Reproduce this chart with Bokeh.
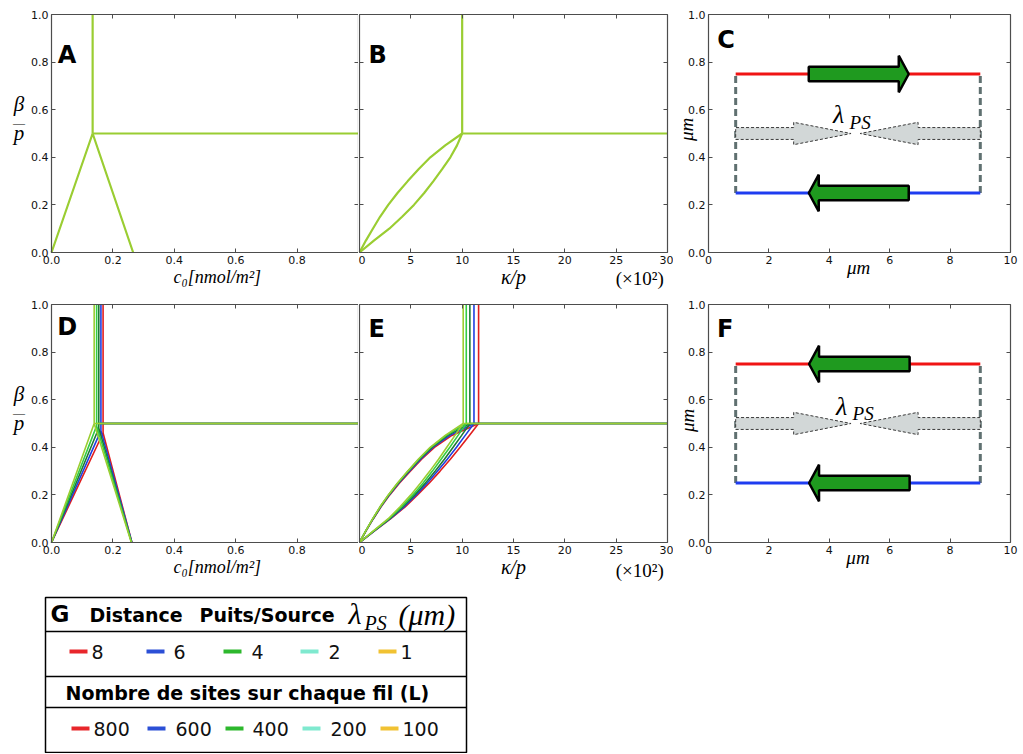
import math
from bokeh.plotting import figure
from bokeh.layouts import column, row
from bokeh.models import (Range1d, FixedTicker, LinearAxis, Label,
                          PrintfTickFormatter, CustomJSTickFormatter)
from bokeh.embed import file_html
from bokeh.resources import INLINE
from bokeh.core.properties import value

# ---------------- data ----------------
beta_lim = (0.0, 1.0)
c0_lim = (0.0, 1.0)
kappa_lim = (0.0, 30.0)
um_lim = (0.0, 10.0)
mc_beta = 0.5

# curve sample heights (beta/p) used by the lens curves of B and E
lens_beta = [0.0, 0.05, 0.10, 0.15, 0.20, 0.25, 0.30, 0.35, 0.40, 0.45, 0.50]

# panel A
a_crit_c0 = 0.134
a_foot_c0 = 0.266

# panel B (x in units of 10^2)
b_crit_kappa = 10.0
b_upper_kappa = [0.0, 0.62, 1.3, 2.0, 2.8, 3.7, 4.7, 5.75, 6.9, 8.35, 10.0]
b_lower_kappa = [0.0, 1.4, 2.9, 4.15, 5.3, 6.3, 7.2, 8.05, 8.85, 9.5, 10.0]

# series of panels D / E and of legend G
series_lambda = ["8", "6", "4", "2", "1"]
series_L = ["800", "600", "400", "200", "100"]
legend_colors = ["#e8262b", "#2b4fd6", "#2db82d", "#7fe9cf", "#f1c232"]
curve_colors = ["#e01e1e", "#1f3fe0", "#1f7a35", "#33cc44", "#9acd32"]
single_color = "#9acd32"

d_apex_c0 = [0.168, 0.161, 0.154, 0.147, 0.139]
d_apex_beta = [0.46, 0.47, 0.48, 0.49, 0.50]
d_foot_c0 = [0.262, 0.262, 0.261, 0.261, 0.260]

e_crit_kappa = [11.6, 11.15, 10.75, 10.4, 10.1]
e_upper_kappa = [
    [0.0, 0.65, 1.35, 2.1, 2.95, 3.9, 4.95, 6.05, 7.3, 9.0, 11.6],
    [0.0, 0.64, 1.33, 2.07, 2.9, 3.83, 4.86, 5.95, 7.15, 8.8, 11.15],
    [0.0, 0.63, 1.31, 2.04, 2.86, 3.77, 4.78, 5.85, 7.05, 8.6, 10.75],
    [0.0, 0.62, 1.3, 2.02, 2.83, 3.73, 4.73, 5.78, 6.95, 8.45, 10.4],
    [0.0, 0.62, 1.29, 2.0, 2.8, 3.7, 4.7, 5.72, 6.88, 8.35, 10.1],
]
e_lower_kappa = [
    [0.0, 1.5, 3.05, 4.45, 5.65, 6.8, 7.85, 8.85, 9.8, 10.7, 11.6],
    [0.0, 1.48, 3.0, 4.35, 5.52, 6.6, 7.6, 8.55, 9.45, 10.3, 11.15],
    [0.0, 1.45, 2.95, 4.22, 5.38, 6.42, 7.38, 8.27, 9.12, 9.95, 10.75],
    [0.0, 1.42, 2.88, 4.1, 5.2, 6.2, 7.1, 7.95, 8.8, 9.6, 10.4],
    [0.0, 1.38, 2.8, 3.95, 5.0, 5.95, 6.85, 7.7, 8.5, 9.3, 10.1],
]

# schematic panels C and F (micrometres)
wire_x = [0.9, 9.0]
wire_y = [0.75, 0.25]
wire_colors = ["#f01414", "#1e3cf0"]
c_motor_from = [3.32, 6.63]
c_motor_to = [6.63, 3.32]
f_motor_from = [6.66, 6.66]
f_motor_to = [3.33, 3.33]
lam_from = [0.9, 9.0]
lam_head = [2.82, 6.94]
lam_to = [4.72, 5.02]
lam_y = 0.5

tick_c0 = [0.0, 0.2, 0.4, 0.6, 0.8]
tick_kappa = [0, 5, 10, 15, 20, 25, 30]
tick_um = [0, 2, 4, 6, 8, 10]
tick_beta = [0.0, 0.2, 0.4, 0.6, 0.8, 1.0]

# ---------------- styling helpers ----------------
AX = "#4d4d4d"
TICKF = "DejaVu Sans"
SERIF = "Liberation Serif"


def make_axis(ticks, fmt, loc, bounds, tick_in, tick_out):
    ax = LinearAxis(fixed_location=loc, bounds=bounds)
    ax.ticker = FixedTicker(ticks=ticks)
    ax.major_tick_in = tick_in
    ax.major_tick_out = tick_out
    ax.minor_tick_line_color = None
    ax.axis_line_color = AX
    ax.axis_line_width = 1.2
    ax.major_tick_line_color = AX
    ax.major_label_text_font = TICKF
    ax.major_label_text_color = "#111111"
    if fmt is None:
        ax.formatter = CustomJSTickFormatter(code="return ''")
        ax.major_label_text_font_size = "0px"
        ax.major_label_standoff = 0
    else:
        ax.formatter = PrintfTickFormatter(format=fmt)
        ax.major_label_text_font_size = "11px"
        ax.major_label_standoff = 3
    return ax


def panel(fig_px, frame_px, xlim, ylim, xticks, xfmt, yticks, yfmt):
    """fig_px / frame_px: (left, right, top, bottom) in page pixels."""
    fl, fr, ft, fb = fig_px
    al, ar, at, ab = frame_px
    sx = (xlim[1] - xlim[0]) / (ar - al)
    sy = (ylim[1] - ylim[0]) / (ab - at)
    xr = Range1d(xlim[0] - (al - fl) * sx, xlim[1] + (fr - ar) * sx)
    yr = Range1d(ylim[0] - (fb - ab) * sy, ylim[1] + (at - ft) * sy)
    p = figure(width=fr - fl, height=fb - ft, min_border=0, x_range=xr, y_range=yr,
               x_axis_type=None, y_axis_type=None,
               output_backend="svg", toolbar_location=None, tools="")
    p.outline_line_color = None
    p.add_layout(make_axis(xticks, xfmt, ylim[0], xlim, 4, 0), "below")
    p.add_layout(make_axis(xticks, None, ylim[1], xlim, 0, 4), "below")
    p.add_layout(make_axis(yticks, yfmt, xlim[0], ylim, 4, 0), "left")
    p.add_layout(make_axis(yticks, None, xlim[1], ylim, 0, 4), "left")
    return p


def lab(p, x, y, text, size, font=SERIF, style="italic", align="center",
        baseline="middle", angle=0.0, color="black"):
    p.add_layout(Label(x=x, y=y, text=text, text_font=font, text_font_size=size,
                       text_font_style=style, text_align=align,
                       text_baseline=baseline, angle=angle, text_color=color))


def letter(p, x, y, t):
    lab(p, x, y, t, "24px", font="DejaVu Sans", style="bold", align="left",
        baseline="alphabetic")


def beta_label(p, xpos):
    lab(p, xpos, 0.622, "β", "21px")
    lab(p, xpos, 0.546, "—", "12px", style="normal")
    lab(p, xpos, 0.503, "p", "21px")


# page pixels (the page has no body margin)
ROW1 = (0, 290, 14, 252)     # fig top, fig bottom, frame top, frame bottom
ROW2 = (290, 588, 304, 542)
COLA = (0, 358, 51, 358)     # fig left, fig right, frame left, frame right
COLB = (358, 673, 359, 667)
COLC = (673, 1020, 708, 1010)


def boxes(col, rw):
    return (col[0], col[1], rw[0], rw[1]), (col[2], col[3], rw[2], rw[3])


# ---------------- panel A ----------------
pa = panel(*boxes(COLA, ROW1), c0_lim, beta_lim, tick_c0, "%.1f", tick_beta, "%.1f")
pa.multi_line(xs=[[0.0, a_crit_c0, a_foot_c0], [a_crit_c0, a_crit_c0], [a_crit_c0, c0_lim[1]]],
              ys=[[0.0, mc_beta, 0.0], [mc_beta, beta_lim[1]], [mc_beta, mc_beta]],
              line_color=single_color, line_width=2.2)
letter(pa, 0.02, 0.828, "A")
beta_label(pa, -0.106)
lab(pa, 0.54, -0.105, "c₀[nmol/m²]", "18px")

# ---------------- panel B ----------------
pb = panel(*boxes(COLB, ROW1), kappa_lim, beta_lim, tick_kappa, "%d", tick_beta, None)
pb.multi_line(xs=[b_upper_kappa, b_lower_kappa, [b_crit_kappa, b_crit_kappa],
                  [b_crit_kappa, kappa_lim[1]]],
              ys=[lens_beta, lens_beta, [mc_beta, beta_lim[1]], [mc_beta, mc_beta]],
              line_color=single_color, line_width=2.2)
letter(pb, 0.88, 0.828, "B")
lab(pb, 15.0, -0.105, "κ/p", "20px")
lab(pb, 27.3, -0.108, "(×10²)", "19px", style="normal")


# ---------------- schematic panels ----------------
def schematic(p, m_from, m_to, lam_lx, lam_ly):
    p.multi_line(xs=[[wire_x[0], wire_x[0]], [wire_x[1], wire_x[1]]],
                 ys=[[wire_y[1], wire_y[0]], [wire_y[1], wire_y[0]]],
                 line_color="#5f7070", line_width=3, line_dash="7 4")
    for yy, cc in zip(wire_y, wire_colors):
        p.line(x=wire_x, y=[yy, yy], line_color=cc, line_width=3)
    sh, hh = 0.025, 0.047
    gx, gy = [], []
    for xt, xb, xh in zip(lam_from, lam_head, lam_to):
        gx.append([xt, xb, xb, xh, xb, xb, xt])
        gy.append([lam_y - sh, lam_y - sh, lam_y - hh, lam_y, lam_y + hh, lam_y + sh, lam_y + sh])
    p.patches(xs=gx, ys=gy, fill_color="#d2d7d7", line_color="#3a3a3a",
              line_width=1, line_dash="3 2")
    sh, hh, hl = 0.03, 0.077, 0.33
    mx, my = [], []
    for xt, xh, y0 in zip(m_from, m_to, wire_y):
        d = 1.0 if xh > xt else -1.0
        xb = xh - d * hl
        mx.append([xt, xb, xb, xh, xb, xb, xt])
        my.append([y0 - sh, y0 - sh, y0 - hh, y0, y0 + hh, y0 + sh, y0 + sh])
    p.patches(xs=mx, ys=my, fill_color="#1f9a1f", line_color="black", line_width=2.5)
    lab(p, lam_lx, lam_ly, "λ", "26px", align="left")
    lab(p, lam_lx + 0.55, lam_ly - 0.03, "PS", "19px", align="left")


pc = panel(*boxes(COLC, ROW1), um_lim, beta_lim, tick_um, "%d", tick_beta, "%.1f")
schematic(pc, c_motor_from, c_motor_to, 4.12, 0.578)
letter(pc, 0.29, 0.891, "C")
lab(pc, 4.97, -0.063, "μm", "19px")
lab(pc, -0.72, 0.517, "μm", "19px", angle=math.pi / 2)

# ---------------- panel D ----------------
pd = panel(*boxes(COLA, ROW2), c0_lim, beta_lim, tick_c0, "%.1f", tick_beta, "%.1f")
for i in range(len(series_lambda)):
    ax_, ay_ = d_apex_c0[i], d_apex_beta[i]
    pd.multi_line(xs=[[0.0, ax_, d_foot_c0[i]], [ax_, ax_], [ax_, c0_lim[1]]],
                  ys=[[0.0, ay_, 0.0], [ay_, beta_lim[1]], [mc_beta, mc_beta]],
                  line_color=curve_colors[i], line_width=1.6)
letter(pd, 0.019, 0.905, "D")
beta_label(pd, -0.106)
lab(pd, 0.54, -0.104, "c₀[nmol/m²]", "18px")

# ---------------- panel E ----------------
pe = panel(*boxes(COLB, ROW2), kappa_lim, beta_lim, tick_kappa, "%d", tick_beta, None)
for i in range(len(series_lambda)):
    k = e_crit_kappa[i]
    pe.multi_line(xs=[e_upper_kappa[i], e_lower_kappa[i], [k, k], [k, kappa_lim[1]]],
                  ys=[lens_beta, lens_beta, [mc_beta, beta_lim[1]], [mc_beta, mc_beta]],
                  line_color=curve_colors[i], line_width=1.6)
letter(pe, 0.88, 0.898, "E")
lab(pe, 15.0, -0.105, "κ/p", "20px")
lab(pe, 27.3, -0.118, "(×10²)", "19px", style="normal")

# ---------------- panel F ----------------
pf = panel(*boxes(COLC, ROW2), um_lim, beta_lim, tick_um, "%d", tick_beta, "%.1f")
schematic(pf, f_motor_from, f_motor_to, 4.22, 0.570)
letter(pf, 0.285, 0.899, "F")
lab(pf, 4.95, -0.062, "μm", "19px")
lab(pf, -0.70, 0.513, "μm", "19px", angle=math.pi / 2)

# ---------------- legend G (coordinates: page px, y measured up from 753) ----------------
g = figure(width=470, height=165, min_border=0,
           x_range=Range1d(0, 470), y_range=Range1d(0, 165),
           x_axis_type=None, y_axis_type=None,
           output_backend="svg", toolbar_location=None, tools="")
g.outline_line_color = None
g.quad(left=45, right=466, top=156, bottom=1, fill_color=None,
       line_color="black", line_width=1.5)
g.segment(x0=[45, 45, 45], x1=[466, 466, 466], y0=[122, 77, 46], y1=[122, 77, 46],
          line_color="black", line_width=1.5)
lab(g, 50, 140, "G", "23px", font="DejaVu Sans", style="bold", align="left")
lab(g, 89, 139, "Distance", "19px", font="DejaVu Sans", style="bold", align="left")
lab(g, 199, 139, "Puits/Source", "19px", font="DejaVu Sans", style="bold", align="left")
lab(g, 348, 140, "λ", "30px", align="left")
lab(g, 364, 131, "PS", "20px", align="left")
lab(g, 398, 139, "(μm)", "30px", align="left")
lab(g, 65, 61, "Nombre de sites sur chaque fil (L)", "19px", font="DejaVu Sans",
    style="bold", align="left")

lam_line_x = [69, 146, 223, 300, 378]
lam_text_x = [91, 173, 251, 328, 400]
L_line_x = [71, 147, 225, 302, 380]
L_text_x = [93, 175, 252, 330, 402]
y_r2, y_r4 = 102, 25
g.segment(x0=lam_line_x, x1=[x + 18 for x in lam_line_x], y0=[y_r2] * 5, y1=[y_r2] * 5,
          line_color=legend_colors, line_width=4)
g.text(x=lam_text_x, y=[y_r2] * 5, text=series_lambda, text_font=value("DejaVu Sans"),
       text_font_size="19px", text_baseline="middle", text_color="#111111")
g.segment(x0=L_line_x, x1=[x + 18 for x in L_line_x], y0=[y_r4] * 5, y1=[y_r4] * 5,
          line_color=legend_colors, line_width=4)
g.text(x=L_text_x, y=[y_r4] * 5, text=series_L, text_font=value("DejaVu Sans"),
       text_font_size="19px", text_baseline="middle", text_color="#111111")

layout = column(row(pa, pb, pc), row(pd, pe, pf), g)
open("out.html", "w").write(file_html(layout, INLINE))
